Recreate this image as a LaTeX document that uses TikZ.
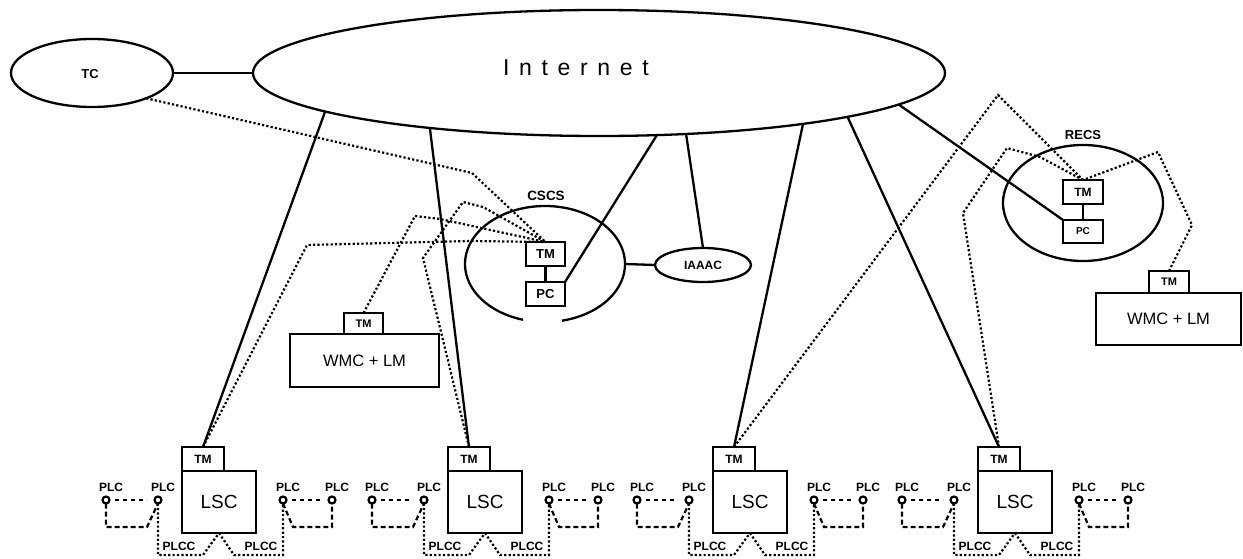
\documentclass[tikz,border=0pt]{standalone}
\usepackage{fontspec}
\setmainfont{Liberation Sans}
\usetikzlibrary{shapes.geometric}
\begin{document}
\begin{tikzpicture}[x=1pt,y=-1pt,
  every node/.style={inner sep=0pt, outer sep=0pt},
  conn/.style={line width=2.3pt},
  tmlink/.style={line width=2.2pt, dash pattern=on 2.2pt off 2.2pt},
  brk/.style={line width=2.2pt, dash pattern=on 5pt off 3pt},
  dotsep/.style={line width=2.2pt, dash pattern=on 4pt off 4pt, shorten <=5pt, shorten >=8pt},
  box/.style={draw, line width=2.3pt, rectangle, font=\bfseries\fontsize{12}{12}\selectfont},
  oval/.style={draw, line width=2.3pt, ellipse},
  lbl/.style={font=\bfseries\fontsize{12}{12}\selectfont},
  plcsym/.style={circle, draw, fill=white, line width=2.2pt, minimum size=7pt},
]
\useasboundingbox (0,0) rectangle (1243,559);

% Internet and TC
\node[oval, minimum width=692pt, minimum height=126pt] (inet) at (599,73) {};
\node[font=\fontsize{23}{23}\selectfont\addfontfeature{LetterSpace=42}] at (576,68) {Internet};
\node[oval, minimum width=162pt, minimum height=68pt] (tc) at (92,73) {};
\node[lbl, font=\bfseries\fontsize{13}{13}\selectfont] at (90,74) {TC};

% CSCS
\node[ellipse, minimum width=160pt, minimum height=116pt] (cscs) at (545,264) {};
\draw[conn] plot[domain=106:437.7, samples=120, smooth] ({545+80*cos(\x)},{264+58*sin(\x)});
\node[lbl, font=\bfseries\fontsize{13.5}{13.5}\selectfont] at (546,196) {CSCS};
\node[box, minimum width=39pt, minimum height=24pt, font=\bfseries\fontsize{13}{13}\selectfont] (ctm) at (545.5,254) {TM};
\node[box, minimum width=39pt, minimum height=24pt, font=\bfseries\fontsize{13}{13}\selectfont] (cpc) at (545.5,294) {PC};
\node[oval, minimum width=96pt, minimum height=34pt, font=\bfseries\fontsize{12}{12}\selectfont] (iaaac) at (703,265) {IAAAC};

% RECS
\node[oval, minimum width=160pt, minimum height=116pt] (recs) at (1083,203) {};
\node[lbl, font=\bfseries\fontsize{13}{13}\selectfont] at (1083,135) {RECS};
\node[box, minimum width=40pt, minimum height=24pt] (rtm) at (1083,192) {TM};
\node[box, minimum width=40pt, minimum height=23pt, font=\bfseries\fontsize{10}{10}\selectfont] (rpc) at (1083,231.5) {PC};

% WMC + LM
\node[box, minimum width=149pt, minimum height=53pt, font=\fontsize{16.5}{16.5}\selectfont] (vmc1) at (364.5,360.5) {WMC + LM};
\node[box, minimum width=39pt, minimum height=21pt, font=\bfseries\fontsize{11}{11}\selectfont] (vtm1) at (363.5,323.5) {TM};
\node[box, minimum width=145pt, minimum height=52pt, font=\fontsize{16.5}{16.5}\selectfont] (vmc2) at (1168.5,319) {WMC + LM};
\node[box, minimum width=40pt, minimum height=22pt, font=\bfseries\fontsize{11}{11}\selectfont] (vtm2) at (1169,282) {TM};

% LSC units
\foreach \i/\o in {1/0,2/266,3/531,4/796}{
  \node[box, minimum width=42pt, minimum height=24pt] (tm\i) at ({203+\o},459) {TM};
  \node[box, minimum width=74pt, minimum height=62pt, font=\fontsize{19}{19}\selectfont] (lsc\i) at ({219+\o},502) {LSC};
  \node[plcsym] (pa\i) at ({106+\o},500) {};
  \node[plcsym] (pb\i) at ({158+\o},500) {};
  \node[plcsym] (pc\i) at ({283+\o},500) {};
  \node[plcsym] (pd\i) at ({332+\o},500) {};
  \node[lbl, anchor=west] at ({99+\o},487) {PLC};
  \node[lbl, anchor=west] at ({151+\o},487) {PLC};
  \node[lbl, anchor=west] at ({276+\o},487) {PLC};
  \node[lbl, anchor=west] at ({325+\o},487) {PLC};
  \draw[dotsep] (pa\i) -- (pb\i);
  \draw[dotsep] (pc\i) -- (pd\i);
  \draw[brk] (pa\i.south) -- ({106+\o},527) -- ({147+\o},527) -- (pb\i.south);
  \draw[brk] (pc\i.south) -- ({293+\o},527) -- ({332+\o},527) -- (pd\i.south);
  \draw[tmlink] (pb\i.south) -- ({158+\o},555) -- ({203+\o},555) -- (lsc\i.south);
  \draw[tmlink] (lsc\i.south) -- ({234+\o},555) -- ({283+\o},555) -- (pc\i.south);
  \node[lbl] at ({179+\o},546) {PLCC};
  \node[lbl] at ({261+\o},546) {PLCC};
}

% solid connectors
\draw[conn] (tc.east) -- (inet.west);
\draw[conn] (inet.188) -- (tm1.north);
\draw[conn] (inet.198) -- (tm2.north);
\draw[conn] (inet.313) -- (cpc.north east);
\draw[conn] (inet.325) -- (iaaac.north);
\draw[conn] (inet.346) -- (tm3.north);
\draw[conn] (inet.350) -- (tm4.north);
\draw[conn] (inet.354) -- (rpc.north west);
\draw[conn] (cscs.east) -- (iaaac.west);
\draw[conn] (ctm.south) -- (cpc.north);
\draw[conn] (rtm.south) -- (rpc.north);

% dotted TM links
\draw[tmlink] (tc.335) -- (472,173) -- (ctm.north);
\draw[tmlink] (tm1.north) -- (307,245) -- (470,241) -- (ctm.north);
\draw[tmlink] (vtm1.north) -- (415,216) -- (440,219) -- (ctm.north);
\draw[tmlink] (tm2.north) -- (423,258) -- (463,202) -- (483,207) -- (ctm.north);
\draw[tmlink] (tm3.north) -- (998,95) -- (rtm.north);
\draw[tmlink] (tm4.north) -- (963,213) -- (1007,148) -- (1040,157) -- (rtm.north);
\draw[tmlink] (vtm2.north) -- (1192,225) -- (1158,152) -- (rtm.north);
\end{tikzpicture}
\end{document}
